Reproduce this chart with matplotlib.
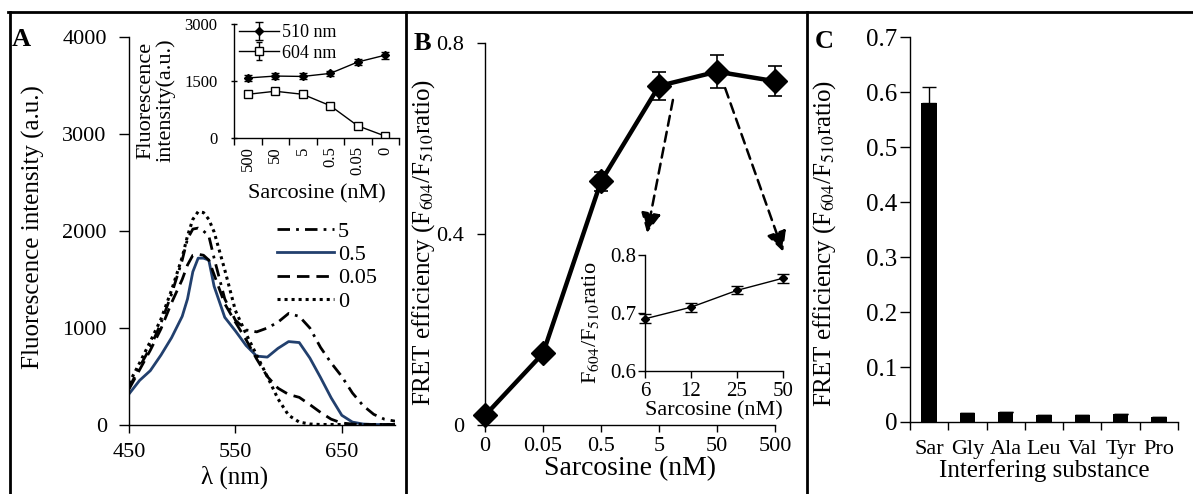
"""
FRET sarcosine sensor figure: (A) emission spectra with intensity inset,
(B) FRET efficiency vs sarcosine with low-range inset, (C) selectivity bars.
"""

import numpy as np
import matplotlib
matplotlib.use("Agg")
import matplotlib.pyplot as plt
from matplotlib.lines import Line2D

W_PX, H_PX = 1193, 494
DPI = 100

# ---- Panel A: emission spectra -------------------------------------------
wavelength = [450, 460, 470, 480, 490, 500, 505, 510, 515, 520, 525, 530, 540,
              550, 560, 570, 580, 590, 600, 610, 620, 630, 640, 650, 660, 670,
              680, 690, 700]
spec_5 = [380, 600, 800, 1050, 1350, 1700, 1920, 2020, 2030, 2000, 1950, 1720,
          1300, 1080, 980, 960, 1000, 1060, 1150, 1120, 1000, 800, 640, 500,
          330, 200, 110, 60, 40]
spec_05 = [320, 460, 560, 720, 900, 1120, 1300, 1580, 1720, 1720, 1700, 1430,
           1110, 970, 820, 710, 700, 790, 860, 850, 690, 490, 280, 100, 30, 10,
           5, 5, 5]
spec_005 = [370, 570, 770, 990, 1260, 1500, 1650, 1750, 1760, 1750, 1700, 1550,
            1250, 1060, 880, 680, 500, 380, 315, 285, 210, 130, 60, 20, 10, 5,
            5, 5, 5]
spec_0 = [430, 640, 860, 1090, 1390, 1730, 1950, 2120, 2200, 2190, 2120, 1990,
          1600, 1180, 940, 720, 500, 270, 100, 30, 10, 5, 5, 5, 5, 5, 5, 5, 5]
spec_labels = ["5", "0.5", "0.05", "0"]

# inset A: intensity at 510 / 604 nm
inset_a_conc = ["500", "50", "5", "0.5", "0.05", "0"]
f510 = [1580, 1630, 1620, 1700, 2000, 2180]
f510_err = [80, 80, 80, 70, 70, 90]
f604 = [1150, 1230, 1150, 850, 320, 50]
f604_err = [40, 40, 40, 40, 40, 30]

# ---- Panel B: FRET efficiency ----------------------------------------------
conc_b = ["0", "0.05", "0.5", "5", "50", "500"]
fret_b = [0.02, 0.15, 0.51, 0.71, 0.74, 0.72]
fret_b_err = [0.0, 0.0, 0.02, 0.03, 0.035, 0.032]

conc_b_inset = ["6", "12", "25", "50"]
ratio_b_inset = [0.690, 0.710, 0.739, 0.760]
ratio_b_inset_err = [0.008, 0.008, 0.007, 0.008]

# ---- Panel C: selectivity -----------------------------------------------
substances = ["Sar", "Gly", "Ala", "Leu", "Val", "Tyr", "Pro"]
fret_c = [0.58, 0.017, 0.018, 0.012, 0.012, 0.014, 0.009]
fret_c_err = [0.03, 0.0, 0.0, 0.0, 0.0, 0.0, 0.0]

FRET_LABEL = "FRET efficiency (F$_{604}$/F$_{510}$ratio)"

plt.rcParams.update({
    "font.family": ["Liberation Serif", "DejaVu Serif"],
    "mathtext.fontset": "stix",
    "axes.linewidth": 1.0,
    "xtick.major.width": 1.0,
    "ytick.major.width": 1.0,
    "xtick.minor.width": 1.0,
    "xtick.major.size": 5,
    "ytick.major.size": 5,
    "xtick.minor.size": 5,
})


def px_axes(fig, left, right, top, bottom):
    """Add axes from pixel edges (origin top-left)."""
    return fig.add_axes([left / W_PX, 1 - bottom / H_PX,
                         (right - left) / W_PX, (bottom - top) / H_PX])


def clean(ax):
    ax.spines["top"].set_visible(False)
    ax.spines["right"].set_visible(False)


fig = plt.figure(figsize=(W_PX / DPI, H_PX / DPI), dpi=DPI)

# outer frame (top, left, dividers)
frame_kw = dict(color="black", lw=2.0, transform=fig.transFigure)
fig.add_artist(Line2D([8 / W_PX, 1], [1 - 12 / H_PX] * 2, **frame_kw))
for xp in (10, 406, 807):
    fig.add_artist(Line2D([xp / W_PX] * 2, [0, 1 - 12 / H_PX], **frame_kw))

# ================= Panel A =================
ax_a = px_axes(fig, 129, 395, 37, 425)
clean(ax_a)
navy = "#22406e"
styles = [
    dict(color="black", ls=(0, (4.5, 2.2, 1.0, 2.2)), lw=2.0),
    dict(color=navy, ls="-", lw=2.0),
    dict(color="black", ls=(0, (4.5, 2.5)), lw=2.0),
    dict(color="black", ls=(0, (1.0, 1.3)), lw=2.2),
]
for ys, lab, st in zip([spec_5, spec_05, spec_005, spec_0], spec_labels, styles):
    ax_a.plot(wavelength, ys, label=lab, **st)
ax_a.set_xlim(450, 700)
ax_a.set_ylim(0, 4000)
ax_a.set_xticks([450, 550, 650])
ax_a.set_yticks([0, 1000, 2000, 3000, 4000])
ax_a.tick_params(labelsize=16)
ax_a.tick_params(axis="y", length=7, pad=9)
ax_a.tick_params(axis="x", length=6, pad=7)
ax_a.set_xlabel("λ (nm)", fontsize=18)
ax_a.xaxis.set_label_coords((235 - 129) / 266, -0.105)
ax_a.set_ylabel("Fluorescence intensity (a.u.)", fontsize=18)
ax_a.yaxis.set_label_coords(-(129 - 45) / 266, (425 - 227) / 388)
ax_a.legend(loc="upper left", bbox_to_anchor=(0.555, 0.525), frameon=False,
            fontsize=16, handlelength=2.6, handletextpad=0.15,
            labelspacing=0.12, borderpad=0, borderaxespad=0)

# inset A
ax_ai = px_axes(fig, 234, 399, 24, 138)
clean(ax_ai)
xa = np.arange(len(inset_a_conc))
ax_ai.errorbar(xa, f510, yerr=f510_err, color="black", lw=1.0, marker="D",
               ms=4, capsize=3, elinewidth=1.0, label="510 nm")
ax_ai.errorbar(xa, f604, yerr=f604_err, color="black", lw=1.0, marker="s",
               ms=6, mfc="white", mec="black", capsize=2.5, elinewidth=1.0,
               label="604 nm")
ax_ai.set_xlim(-0.5, len(inset_a_conc) - 0.5)
ax_ai.set_ylim(0, 3000)
ax_ai.set_yticks([0, 1500, 3000])
ax_ai.set_xticks(xa)
ax_ai.set_xticklabels(inset_a_conc, rotation=90)
ax_ai.set_xticks(np.arange(-0.5, len(inset_a_conc)), minor=True)
ax_ai.tick_params(axis="x", which="major", length=0, labelsize=12, pad=6)
ax_ai.tick_params(axis="y", labelsize=12, length=4, direction="inout", pad=10)
ax_ai.set_xlabel("Sarcosine (nM)", fontsize=16, labelpad=6)
h, l = ax_ai.get_legend_handles_labels()
ax_ai.legend(h, l, loc="upper left", bbox_to_anchor=(0.03, 1.0),
             frameon=False, fontsize=13, handlelength=2.2, handletextpad=0.2,
             labelspacing=0.2, borderpad=0, borderaxespad=0)
fig.text(156 / W_PX, 1 - 100 / H_PX, "Fluorescence\nintensity(a.u.)",
         rotation=90, ha="center", va="center", fontsize=16, linespacing=1.0)

fig.text(21 / W_PX, 1 - 40 / H_PX, "A", fontsize=19, fontweight="bold",
         ha="center", va="center")

# ================= Panel B =================
ax_b = px_axes(fig, 485, 775, 43, 425)
clean(ax_b)
xb = np.arange(len(conc_b))
ax_b.errorbar(xb, fret_b, yerr=fret_b_err, color="black", lw=3.2, marker="D",
              ms=12, capsize=5, elinewidth=1.2, capthick=1.2, clip_on=False,
              zorder=3)
ax_b.set_xlim(0, len(conc_b) - 1)
ax_b.set_ylim(0, 0.8)
ax_b.set_xticks(xb)
ax_b.set_xticklabels(conc_b)
ax_b.set_yticks([0, 0.4, 0.8])
ax_b.set_yticklabels(["0", "0.4", "0.8"])
ax_b.tick_params(labelsize=16)
ax_b.tick_params(axis="y", length=6, pad=9)
ax_b.set_xlabel("Sarcosine (nM)", fontsize=20, labelpad=0)
ax_b.set_ylabel(FRET_LABEL, fontsize=18)
ax_b.yaxis.set_label_coords(-(485 - 437) / 290, (425 - 242) / 382)

arrow_kw = dict(arrowstyle="-|>", ls=(0, (4, 2.5)), lw=1.8, color="black",
                mutation_scale=30, shrinkA=0, shrinkB=0)
ax_b.annotate("", xy=(0.559, 0.503), xytext=(0.648, 0.851),
              xycoords="axes fraction", arrowprops=arrow_kw,
              annotation_clip=False)
ax_b.annotate("", xy=(1.028, 0.454), xytext=(0.828, 0.882),
              xycoords="axes fraction", arrowprops=arrow_kw,
              annotation_clip=False)

# inset B
ax_bi = px_axes(fig, 645, 783, 255, 371)
clean(ax_bi)
xbi = np.arange(len(conc_b_inset))
ax_bi.errorbar(xbi, ratio_b_inset, yerr=ratio_b_inset_err, color="black",
               lw=1.0, marker="D", ms=4, capsize=4, elinewidth=1.0,
               clip_on=False)
ax_bi.set_xlim(0, len(conc_b_inset) - 1)
ax_bi.set_ylim(0.6, 0.8)
ax_bi.set_xticks(xbi)
ax_bi.set_xticklabels(conc_b_inset)
ax_bi.set_yticks([0.6, 0.7, 0.8])
ax_bi.tick_params(labelsize=15, pad=1)
ax_bi.tick_params(axis="x", pad=3)
ax_bi.set_xlabel("Sarcosine (nM)", fontsize=16, labelpad=0)
ax_bi.set_ylabel("F$_{604}$/F$_{510}$ratio", fontsize=16)
ax_bi.yaxis.set_label_coords(-(645 - 601) / 138, (371 - 323) / 116)

fig.text(422 / W_PX, 1 - 43 / H_PX, "B", fontsize=19, fontweight="bold",
         ha="center", va="center")

# ================= Panel C =================
ax_c = px_axes(fig, 910, 1178, 37, 422)
clean(ax_c)
xc = np.arange(len(substances))
ax_c.bar(xc, fret_c, width=0.4, color="black", zorder=2)
ax_c.errorbar(xc, fret_c, yerr=[np.zeros(len(xc)), fret_c_err], fmt="none",
              ecolor="black", elinewidth=1.0, capsize=5, capthick=1.0)
ax_c.set_xlim(-0.5, len(substances) - 0.5)
ax_c.set_ylim(0, 0.7)
ax_c.set_yticks(np.arange(0, 0.71, 0.1))
ax_c.set_yticklabels(["0", "0.1", "0.2", "0.3", "0.4", "0.5", "0.6", "0.7"])
ax_c.set_xticks(xc)
ax_c.set_xticklabels(substances)
ax_c.set_xticks(np.arange(-0.5, len(substances)), minor=True)
ax_c.tick_params(axis="x", which="major", length=0, labelsize=16, pad=13)
ax_c.tick_params(axis="x", which="minor", length=6)
ax_c.tick_params(axis="y", labelsize=18, length=7, pad=2)
ax_c.set_xlabel("Interfering substance", fontsize=18, labelpad=0)
ax_c.set_ylabel(FRET_LABEL, fontsize=18)
ax_c.yaxis.set_label_coords(-(910 - 838) / 268, (422 - 243) / 385)

fig.text(824 / W_PX, 1 - 42 / H_PX, "C", fontsize=19, fontweight="bold",
         ha="center", va="center")

fig.savefig("out.png", dpi=DPI, facecolor="white")
